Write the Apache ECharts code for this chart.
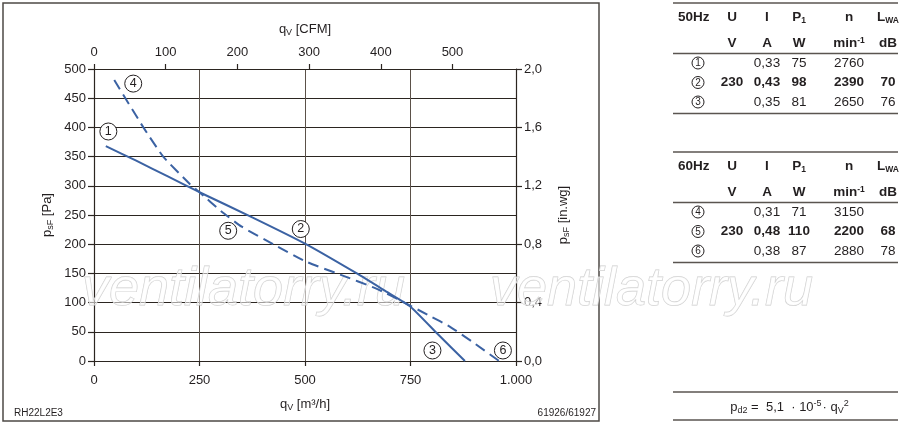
<!DOCTYPE html>
<html>
<head>
<meta charset="utf-8">
<script src="https://cdn.jsdelivr.net/npm/echarts@6/dist/echarts.min.js"></script>
<style>
html,body{margin:0;padding:0;background:#fff;}
#c{width:900px;height:426px;}
</style>
</head>
<body>
<div id="c"></div>
<script>
// ---- data ----
const curve50 = [[28,368],[100,343],[175,316],[250,289],[375,246],[500,201],[625,149],[690,120],[750,93],[812,48],[879,0]];
const curve60 = [[48,481],[117,400],[164,350],[227,303],[250,289],[302,256],[350,230],[425,200],[503,170],[583,148],[669,124],[733,101],[796,77],[843,59],[900,31],[960,0]];
const curveLabels = [[34,393,'1'],[490,226,'2'],[802,18,'3'],[93,475,'4'],[318,223,'5'],[969,18,'6']];
const cfmPerM3h = 1/1.699;
const headers = ['U','I','P1','n','LWA'];
const units = ['V','A','W','min-1','dB'];
const rows50 = [['1','','0,33','75','2760',''],['2','230','0,43','98','2390','70'],['3','','0,35','81','2650','76']];
const rows60 = [['4','','0,31','71','3150',''],['5','230','0,48','110','2200','68'],['6','','0,38','87','2880','78']];
const footLeft = 'RH22L2E3';
const footRight = '61926/61927';
const watermark = 'ventilatorry.ru';

// ---- helpers ----
const FONT = '"Liberation Sans", Arial, Helvetica, sans-serif';
const INK = '#231f20';
function txt(x, y, text, o) {
  o = o || {};
  return {
    type: 'text', x: x, y: y, z: o.z || 5, silent: true,
    style: {
      text: text, fill: o.fill || INK,
      font: (o.weight || 'normal') + ' ' + (o.size || 13) + 'px ' + FONT,
      textAlign: o.align || 'center', align: o.align || 'center',
      textVerticalAlign: 'middle', verticalAlign: 'middle',
      rich: o.rich, stroke: o.stroke, lineWidth: o.lineWidth
    }
  };
}
function hline(x1, x2, y) {
  return {type:'line', silent:true, z:5, shape:{x1:x1,y1:y,x2:x2,y2:y}, style:{stroke:'#5a5550', lineWidth:1.3}};
}
function circ(x, y, d, r, fs) {
  return [
    {type:'circle', silent:true, z:5, shape:{cx:x, cy:y, r:r}, style:{fill:'#fff', stroke:INK, lineWidth:1}},
    txt(x, y+0.5, d, {size:fs})
  ];
}
const colX = [698, 732, 767, 799, 849, 888];
function richFor(weight) {
  return {
    b: {fontSize:13.5, fontWeight:weight, fontFamily:FONT, color:INK, lineHeight:20, verticalAlign:'middle'},
    sub: {fontSize:8.5, fontWeight:weight, fontFamily:FONT, color:INK, lineHeight:20, verticalAlign:'bottom', padding:[0,0,2,0]},
    sup: {fontSize:8.5, fontWeight:weight, fontFamily:FONT, color:INK, lineHeight:20, verticalAlign:'top', padding:[3,0,0,0]}
  };
}
function headerText(h) {
  if (h === 'P1') return '{b|P}{sub|1}';
  if (h === 'LWA') return '{b|L}{sub|WA}';
  if (h === 'min-1') return '{b|min}{sup|-1}';
  return '{b|' + h + '}';
}
function table(hz, rows, yTop) {
  const g = [];
  g.push(hline(673, 898, yTop));
  g.push(hline(673, 898, yTop + 50.5));
  g.push(hline(673, 898, yTop + 110.5));
  g.push(txt(678, yTop + 14, hz, {align:'left', weight:'bold', size:13.5}));
  headers.forEach((h, i) => {
    g.push(txt(colX[i+1], yTop + 14, headerText(h), {weight:'bold', rich: richFor('bold')}));
  });
  units.forEach((u, i) => {
    g.push(txt(colX[i+1], yTop + 40, headerText(u), {weight:'bold', rich: richFor('bold')}));
  });
  rows.forEach((r, ri) => {
    const y = yTop + 60 + ri * 19.5;
    circ(colX[0], y, r[0], 6, 10).forEach(e => g.push(e));
    for (let i = 1; i < r.length; i++) {
      if (r[i]) g.push(txt(colX[i], y, r[i], {weight: ri === 1 ? 'bold' : 'normal', size:13.5}));
    }
  });
  return g;
}
function commaFmt(v) { return v.toFixed(1).replace('.', ','); }
function thousand(v) { return v >= 1000 ? Math.floor(v/1000) + '.' + String(v % 1000).padStart(3,'0') : String(v); }

const nameRich = {
  b: {fontSize:13, fontFamily:FONT, color:INK, lineHeight:18, verticalAlign:'middle'},
  s: {fontSize:9, fontFamily:FONT, color:INK, lineHeight:18, verticalAlign:'bottom', padding:[0,0,1,0]}
};

const graphics = [];
graphics.push({type:'rect', silent:true, z:0, shape:{x:3, y:3, width:596, height:418}, style:{fill:'none', stroke:'#4e4a46', lineWidth:1.5}});
graphics.push(txt(14, 413, footLeft, {align:'left', size:10}));
graphics.push(txt(596, 413, footRight, {align:'right', size:10}));
table('50Hz', rows50, 3).forEach(e => graphics.push(e));
table('60Hz', rows60, 152).forEach(e => graphics.push(e));
graphics.push(hline(673, 898, 392));
graphics.push(hline(673, 898, 420));
graphics.push(txt(790, 407, '{b|p}{s|d2}{b| =  5,1  · 10}{p|-5}{b|· q}{s|V}{p|2}', {
  rich: {
    b: {fontSize:13, fontFamily:FONT, color:INK, lineHeight:20, verticalAlign:'middle'},
    s: {fontSize:9, fontFamily:FONT, color:INK, lineHeight:20, verticalAlign:'bottom', padding:[0,0,2,0]},
    p: {fontSize:9, fontFamily:FONT, color:INK, lineHeight:20, verticalAlign:'top', padding:[2,1,0,0]}
  }
}));
[[82, 290], [490, 290]].forEach(p => {
  graphics.push({
    type:'text', x:p[0], y:p[1], z:1, silent:true,
    style:{text: watermark, font:'italic 54px ' + FONT, fill:'rgba(255,255,255,0.55)', stroke:'#cccccc', lineWidth:0.9,
      textAlign:'left', align:'left', textVerticalAlign:'middle', verticalAlign:'middle'}
  });
});

const axisLine = {show:true, onZero:false, lineStyle:{color:'#2b2520', width:1.2}};
const tickStyle = {color:'#2b2520', width:1.2};
const labelStyle = {color:INK, fontSize:13, fontFamily:FONT};

const option = {
  animation: false,
  backgroundColor: '#fff',
  grid: {left:94, top:69, right:384, bottom:65, containLabel:false},
  xAxis: [
    {
      type:'value', position:'bottom', min:0, max:1000, interval:250,
      axisLine: axisLine, axisTick:{show:true, inside:false, length:5, lineStyle:tickStyle},
      axisLabel: Object.assign({margin:13, formatter: v => thousand(v)}, labelStyle),
      splitLine:{show:true, lineStyle:{color:'#5b5149', width:1}},
      name:'{b|q}{s|V}{b| [m³/h]}', nameLocation:'middle', nameGap:34,
      nameTextStyle:{rich:nameRich}
    },
    {
      type:'value', position:'top', min:0, max:1000 * cfmPerM3h, interval:100,
      axisLine: axisLine, axisTick:{show:true, inside:false, length:5, lineStyle:tickStyle},
      axisLabel: Object.assign({margin:10, showMaxLabel:false, formatter: v => String(Math.round(v))}, labelStyle),
      splitLine:{show:false},
      name:'{b|q}{s|V}{b| [CFM]}', nameLocation:'middle', nameGap:31,
      nameTextStyle:{rich:nameRich}
    }
  ],
  yAxis: [
    {
      type:'value', position:'left', min:0, max:500, interval:50,
      axisLine: axisLine, axisTick:{show:true, inside:false, length:6, lineStyle:tickStyle},
      axisLabel: Object.assign({margin:8}, labelStyle),
      splitLine:{show:true, lineStyle:{color:'#2b2520', width:1}},
      name:'{b|p}{s|sF}{b| [Pa]}', nameLocation:'middle', nameGap:38, nameRotate:90,
      nameTextStyle:{rich:nameRich}
    },
    {
      type:'value', position:'right', min:0, max:2.0, interval:0.4,
      axisLine: axisLine, axisTick:{show:true, inside:false, length:6, lineStyle:tickStyle},
      axisLabel: Object.assign({margin:8, formatter: v => commaFmt(v)}, labelStyle),
      splitLine:{show:false},
      name:'{b|p}{s|sF}{b| [in.wg]}', nameLocation:'middle', nameGap:38, nameRotate:90,
      nameTextStyle:{rich:nameRich}
    }
  ],
  graphic: {elements: graphics},
  series: [
    {
      type:'line', xAxisIndex:0, yAxisIndex:0, data: curve50, showSymbol:false, silent:true,
      smooth:0.15, z:3,
      lineStyle:{color:'#3b62a3', width:2}
    },
    {
      type:'line', xAxisIndex:0, yAxisIndex:0, data: curve60, showSymbol:false, silent:true,
      smooth:0.15, z:3,
      lineStyle:{color:'#3b62a3', width:2, type:[11,6]}
    },
    {
      type:'scatter', xAxisIndex:0, yAxisIndex:0, silent:true, z:4,
      data: curveLabels.map(d => ({value:[d[0], d[1]], name:d[2]})),
      symbol:'circle', symbolSize:17,
      itemStyle:{color:'#fff', borderColor:INK, borderWidth:1, opacity:1},
      label:{show:true, position:'inside', formatter: p => p.name, color:INK, fontSize:12.5, fontFamily:FONT}
    }
  ]
};
const chart = echarts.init(document.getElementById('c'), null, {renderer:'canvas'});
chart.setOption(option);
</script>
</body>
</html>
